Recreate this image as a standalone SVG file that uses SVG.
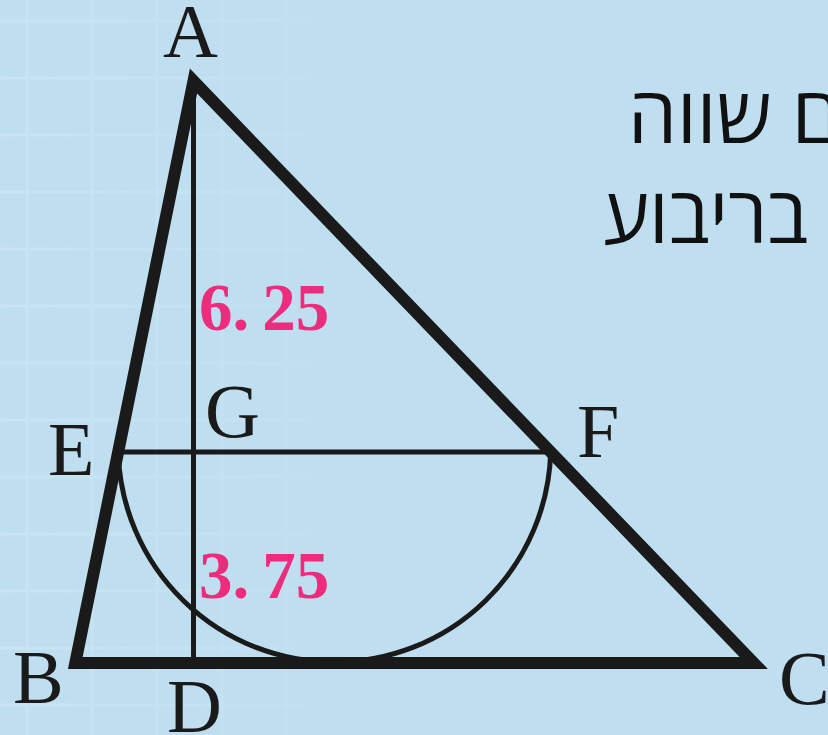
<svg xmlns="http://www.w3.org/2000/svg" width="828" height="735" viewBox="0 0 828 735">
  <defs>
    <style>
      .lbl { font-family: "Liberation Serif", "Times New Roman", serif; font-size: 76px; fill: #1a1a1a; }
      .num { font-family: "Liberation Serif", "Times New Roman", serif; font-size: 67px; font-weight: bold; fill: #ec2c7c; }
      .heb { font-family: "Open Sans", "Liberation Sans", sans-serif; font-size: 78px; fill: #111; }
      .thick { fill: none; stroke: #1a1a1a; stroke-width: 12; stroke-linejoin: miter; }
      .thin { fill: none; stroke: #1a1a1a; stroke-width: 5; }
      .grid { stroke: #d3e8f4; stroke-width: 3; }
    </style>
    <linearGradient id="fade" x1="0" y1="0" x2="1" y2="0">
      <stop offset="0" stop-color="#fff" stop-opacity="1"/>
      <stop offset="0.6" stop-color="#fff" stop-opacity="0.6"/>
      <stop offset="1" stop-color="#fff" stop-opacity="0"/>
    </linearGradient>
    <mask id="gridMask">
      <rect x="0" y="0" width="340" height="735" fill="url(#fade)"/>
    </mask>
  </defs>

  <rect x="0" y="0" width="828" height="735" fill="#bfdff0"/>
  <g id="grid" class="grid" mask="url(#gridMask)" opacity="0.5">
    <line x1="27" y1="0" x2="27" y2="735"/>
    <line x1="92" y1="0" x2="92" y2="735"/>
    <line x1="157" y1="0" x2="157" y2="735"/>
    <line x1="222" y1="0" x2="222" y2="735"/>
    <line x1="287" y1="0" x2="287" y2="735"/>
    <line x1="0" y1="21" x2="340" y2="21"/>
    <line x1="0" y1="78" x2="340" y2="78"/>
    <line x1="0" y1="135" x2="340" y2="135"/>
    <line x1="0" y1="192" x2="340" y2="192"/>
    <line x1="0" y1="249" x2="340" y2="249"/>
    <line x1="0" y1="306" x2="340" y2="306"/>
    <line x1="0" y1="363" x2="340" y2="363"/>
    <line x1="0" y1="420" x2="340" y2="420"/>
    <line x1="0" y1="477" x2="340" y2="477"/>
    <line x1="0" y1="534" x2="340" y2="534"/>
    <line x1="0" y1="591" x2="340" y2="591"/>
    <line x1="0" y1="648" x2="340" y2="648"/>
    <line x1="0" y1="705" x2="340" y2="705"/>
  </g>

  <g id="connectors">
    <polygon id="triangle-ABC" class="thick" points="193.5,81 75.3,663 753.8,663"/>
    <line id="AD" class="thin" x1="193.5" y1="81" x2="193.5" y2="663"/>
    <line id="EF" class="thin" x1="118.2" y1="452" x2="550.7" y2="452"/>
    <path id="arc-EF" class="thin" d="M118.2 452 A216.34 216.34 0 0 0 550.7 452"/>
  </g>

  <g id="node-A"><text class="lbl" x="163" y="57">A</text></g>
  <g id="node-B"><text class="lbl" x="13" y="703">B</text></g>
  <g id="node-C"><text class="lbl" x="779" y="704">C</text></g>
  <g id="node-D"><text class="lbl" x="167" y="732">D</text></g>
  <g id="node-E"><text class="lbl" x="48" y="475">E</text></g>
  <g id="node-F"><text class="lbl" x="577" y="457">F</text></g>
  <g id="node-G"><text class="lbl" x="205" y="437">G</text></g>

  <g id="label-AG"><text class="num" x="199" y="330">6.<tspan dx="13">25</tspan></text></g>
  <g id="label-GD"><text class="num" x="199" y="598">3.<tspan dx="13">75</tspan></text></g>

  <g id="hebrew-text">
    <text class="heb" x="628" y="143" direction="rtl" text-anchor="end">ם שווה</text>
    <text class="heb" x="603" y="243" direction="rtl" text-anchor="end">בריבוע</text>
  </g>
</svg>
